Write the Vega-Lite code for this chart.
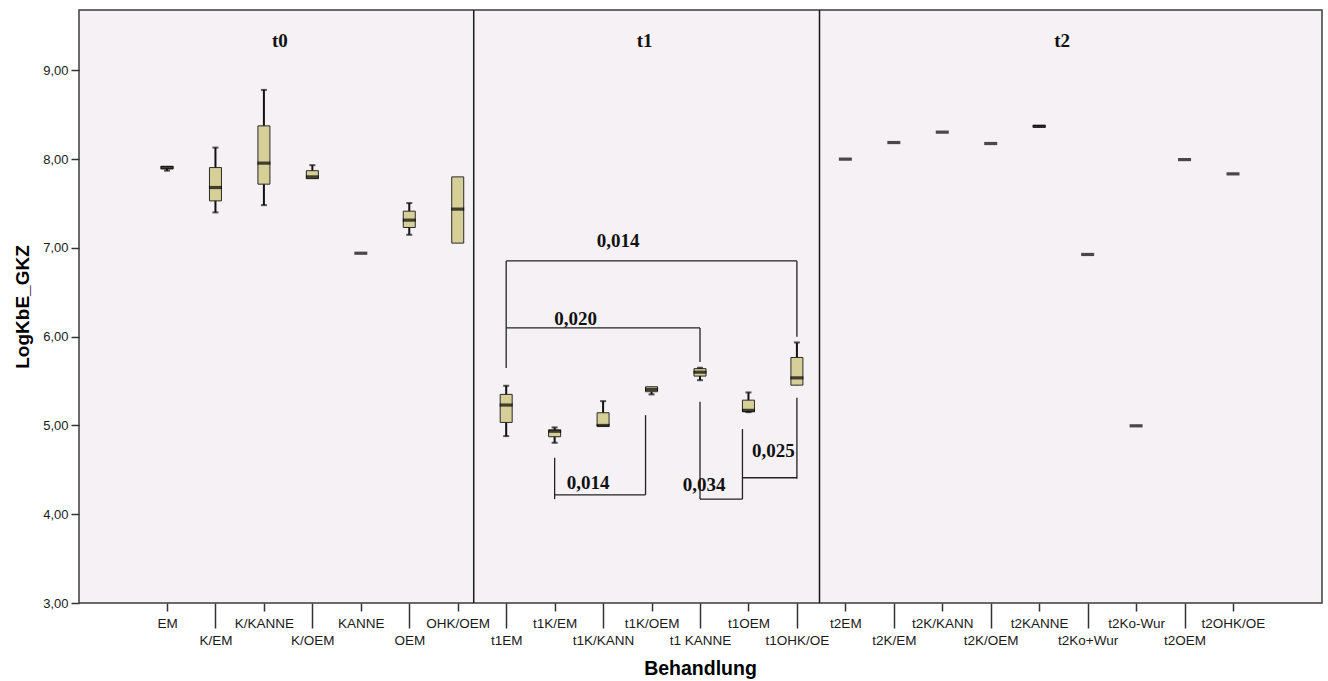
{
  "$schema": "https://vega.github.io/schema/vega-lite/v6.json",
  "autosize": {"type": "none"},
  "width": 1243,
  "height": 593,
  "padding": {"left": 79, "top": 10, "right": 6, "bottom": 78},
  "background": "#ffffff",
  "config": {
    "view": {"fill": "#F5F1F5", "stroke": "#3c3c3c", "strokeWidth": 1.5},
    "axis": {"domain": false, "grid": false, "labelFont": "Liberation Sans", "titleFont": "Liberation Sans", "labelColor": "#1a1a1a", "titleColor": "#000000", "tickColor": "#333333"}
  },
  "datasets": {
    "boxes": [
      {"Behandlung": "EM", "lower": 7.87, "q1": 7.89, "median": 7.905, "q3": 7.92, "upper": 7.92},
      {"Behandlung": "K/EM", "lower": 7.40, "q1": 7.53, "median": 7.68, "q3": 7.905, "upper": 8.13},
      {"Behandlung": "K/KANNE", "lower": 7.482, "q1": 7.718, "median": 7.955, "q3": 8.375, "upper": 8.78},
      {"Behandlung": "K/OEM", "lower": 7.78, "q1": 7.78, "median": 7.80, "q3": 7.87, "upper": 7.932},
      {"Behandlung": "KANNE", "lower": 6.94, "q1": 6.94, "median": 6.94, "q3": 6.94, "upper": 6.94},
      {"Behandlung": "OEM", "lower": 7.148, "q1": 7.23, "median": 7.313, "q3": 7.414, "upper": 7.505},
      {"Behandlung": "OHK/OEM", "lower": 7.054, "q1": 7.054, "median": 7.437, "q3": 7.80, "upper": 7.80},
      {"Behandlung": "t1EM", "lower": 4.88, "q1": 5.034, "median": 5.23, "q3": 5.35, "upper": 5.447},
      {"Behandlung": "t1K/EM", "lower": 4.805, "q1": 4.873, "median": 4.935, "q3": 4.95, "upper": 4.978},
      {"Behandlung": "t1K/KANN", "lower": 4.993, "q1": 4.993, "median": 5.0, "q3": 5.143, "upper": 5.274},
      {"Behandlung": "t1K/OEM", "lower": 5.35, "q1": 5.38, "median": 5.406, "q3": 5.436, "upper": 5.436},
      {"Behandlung": "t1 KANNE", "lower": 5.51, "q1": 5.556, "median": 5.60, "q3": 5.64, "upper": 5.65},
      {"Behandlung": "t1OEM", "lower": 5.15, "q1": 5.154, "median": 5.17, "q3": 5.285, "upper": 5.372},
      {"Behandlung": "t1OHK/OE", "lower": 5.454, "q1": 5.454, "median": 5.536, "q3": 5.766, "upper": 5.935},
      {"Behandlung": "t2EM", "lower": 8.0, "q1": 8.0, "median": 8.0, "q3": 8.0, "upper": 8.0},
      {"Behandlung": "t2K/EM", "lower": 8.187, "q1": 8.187, "median": 8.187, "q3": 8.187, "upper": 8.187},
      {"Behandlung": "t2K/KANN", "lower": 8.304, "q1": 8.304, "median": 8.304, "q3": 8.304, "upper": 8.304},
      {"Behandlung": "t2K/OEM", "lower": 8.176, "q1": 8.176, "median": 8.176, "q3": 8.176, "upper": 8.176},
      {"Behandlung": "t2KANNE", "lower": 8.36, "q1": 8.36, "median": 8.37, "q3": 8.38, "upper": 8.38},
      {"Behandlung": "t2Ko+Wur", "lower": 6.926, "q1": 6.926, "median": 6.926, "q3": 6.926, "upper": 6.926},
      {"Behandlung": "t2Ko-Wur", "lower": 4.996, "q1": 4.996, "median": 4.996, "q3": 4.996, "upper": 4.996},
      {"Behandlung": "t2OEM", "lower": 7.995, "q1": 7.995, "median": 7.995, "q3": 7.995, "upper": 7.995},
      {"Behandlung": "t2OHK/OE", "lower": 7.834, "q1": 7.834, "median": 7.834, "q3": 7.834, "upper": 7.834}
    ],
    "divs": [
      {"Behandlung": "OHK/OEM"},
      {"Behandlung": "t1OHK/OE"}
    ],
    "brackets": [
      {"id": 1, "Behandlung": "t1EM", "bis": "t1OHK/OE", "y1": 6.853, "y2": 6.853},
      {"id": 2, "Behandlung": "t1EM", "bis": "t1EM", "y1": 5.646, "y2": 6.853},
      {"id": 3, "Behandlung": "t1OHK/OE", "bis": "t1OHK/OE", "y1": 5.998, "y2": 6.853},
      {"id": 4, "Behandlung": "t1EM", "bis": "t1 KANNE", "y1": 6.099, "y2": 6.099},
      {"id": 5, "Behandlung": "t1 KANNE", "bis": "t1 KANNE", "y1": 5.716, "y2": 6.099},
      {"id": 6, "Behandlung": "t1K/EM", "bis": "t1K/OEM", "y1": 4.219, "y2": 4.219},
      {"id": 7, "Behandlung": "t1K/EM", "bis": "t1K/EM", "y1": 4.636, "y2": 4.17},
      {"id": 8, "Behandlung": "t1K/OEM", "bis": "t1K/OEM", "y1": 5.116, "y2": 4.219},
      {"id": 9, "Behandlung": "t1 KANNE", "bis": "t1OEM", "y1": 4.171, "y2": 4.171},
      {"id": 10, "Behandlung": "t1 KANNE", "bis": "t1 KANNE", "y1": 5.266, "y2": 4.171},
      {"id": 11, "Behandlung": "t1OEM", "bis": "t1OEM", "y1": 4.959, "y2": 4.171},
      {"id": 12, "Behandlung": "t1OHK/OE", "bis": "t1OEM", "y1": 4.411, "y2": 4.411},
      {"id": 13, "Behandlung": "t1OHK/OE", "bis": "t1OHK/OE", "y1": 5.311, "y2": 4.40}
    ],
    "notes": [
      {"id": 1, "Behandlung": "K/KANNE", "wert": 9.33, "label": "t0"},
      {"id": 2, "Behandlung": "t1K/OEM", "wert": 9.33, "label": "t1"},
      {"id": 3, "Behandlung": "t2KANNE", "wert": 9.33, "label": "t2"},
      {"id": 4, "Behandlung": "t1K/KANN", "wert": 7.08, "label": "0,014"},
      {"id": 5, "Behandlung": "t1K/EM", "wert": 6.197, "label": "0,020"},
      {"id": 6, "Behandlung": "t1K/KANN", "wert": 4.354, "label": "0,014"},
      {"id": 7, "Behandlung": "t1 KANNE", "wert": 4.328, "label": "0,034"},
      {"id": 8, "Behandlung": "t1OEM", "wert": 4.711, "label": "0,025"}
    ]
  },
  "encoding": {
    "x": {
      "field": "Behandlung",
      "type": "nominal",
      "scale": {
        "type": "point",
        "range": [88, 1154],
        "padding": 0,
        "domain": ["EM", "K/EM", "K/KANNE", "K/OEM", "KANNE", "OEM", "OHK/OEM", "t1EM", "t1K/EM", "t1K/KANN", "t1K/OEM", "t1 KANNE", "t1OEM", "t1OHK/OE", "t2EM", "t2K/EM", "t2K/KANN", "t2K/OEM", "t2KANNE", "t2Ko+Wur", "t2Ko-Wur", "t2OEM", "t2OHK/OE"]
      },
      "axis": {
        "title": "Behandlung",
        "titleFontSize": 19.5,
        "titleFontWeight": "bold",
        "titlePadding": 13,
        "labelAngle": 0,
        "labelFontSize": 13.5,
        "labelPadding": 5,
        "labelBaseline": "top",
        "labelOverlap": false,
        "tickWidth": 1.5,
        "tickSize": {
          "condition": {"test": "indexof(['K/EM','K/OEM','OEM','t1EM','t1K/KANN','t1 KANNE','t1OHK/OE','t2K/EM','t2K/OEM','t2Ko+Wur','t2OEM'], datum.value) >= 0", "value": 25},
          "value": 8
        }
      }
    }
  },
  "layer": [
    {
      "data": {"name": "boxes"},
      "mark": {"type": "rule", "color": "#111111", "strokeWidth": 2},
      "encoding": {
        "y": {
          "field": "lower",
          "type": "quantitative",
          "scale": {"domain": [3, 9.68], "nice": false, "zero": false},
          "axis": {
            "title": "LogKbE_GKZ",
            "titleFontSize": 19,
            "titleFontWeight": "bold",
            "titlePadding": 10,
            "values": [3, 4, 5, 6, 7, 8, 9],
            "labelExpr": "replace(format(datum.value, '.2f'), '.', ',')",
            "labelFontSize": 13,
            "labelPadding": 3,
            "tickSize": 8,
            "tickWidth": 1.5
          }
        },
        "y2": {"field": "upper"}
      }
    },
    {
      "data": {"name": "divs"},
      "transform": [{"filter": "datum.Behandlung == 'OHK/OEM'"}],
      "mark": {"type": "rule", "xOffset": 16, "color": "#1a1a1a", "strokeWidth": 1.5},
      "encoding": {}
    },
    {
      "data": {"name": "divs"},
      "transform": [{"filter": "datum.Behandlung == 't1OHK/OE'"}],
      "mark": {"type": "rule", "xOffset": 22.6, "color": "#1a1a1a", "strokeWidth": 1.5},
      "encoding": {}
    },
    {
      "data": {"name": "brackets"},
      "transform": [{"filter": "indexof([1,2,3,4,5,7,10,13], datum.id) >= 0"}],
      "mark": {"type": "rule", "color": "#222222", "strokeWidth": 1.3},
      "encoding": {
        "x2": {"field": "bis"},
        "y": {"field": "y1", "type": "quantitative"},
        "y2": {"field": "y2"}
      }
    },
    {
      "data": {"name": "brackets"},
      "transform": [{"filter": "indexof([6,9,12], datum.id) >= 0"}],
      "mark": {"type": "rule", "color": "#222222", "strokeWidth": 1.3, "x2Offset": -6},
      "encoding": {
        "x2": {"field": "bis"},
        "y": {"field": "y1", "type": "quantitative"},
        "y2": {"field": "y2"}
      }
    },
    {
      "data": {"name": "brackets"},
      "transform": [{"filter": "indexof([8,11], datum.id) >= 0"}],
      "mark": {"type": "rule", "color": "#222222", "strokeWidth": 1.3, "xOffset": -6, "x2Offset": -6},
      "encoding": {
        "x2": {"field": "bis"},
        "y": {"field": "y1", "type": "quantitative"},
        "y2": {"field": "y2"}
      }
    },
    {
      "data": {"name": "boxes"},
      "transform": [{"filter": "datum.q3 > datum.q1"}],
      "mark": {"type": "bar", "width": 12, "fill": "#D6CF98", "stroke": "#2a2a2a", "strokeWidth": 1},
      "encoding": {
        "y": {"field": "q1", "type": "quantitative"},
        "y2": {"field": "q3"}
      }
    },
    {
      "data": {"name": "boxes"},
      "mark": {"type": "tick", "size": 13, "thickness": 3.2, "color": "#000000"},
      "encoding": {
        "y": {"field": "median", "type": "quantitative"}
      }
    },
    {
      "data": {"name": "boxes"},
      "transform": [{"filter": "datum.upper > datum.q3"}],
      "mark": {"type": "tick", "size": 6, "thickness": 2, "color": "#111111"},
      "encoding": {
        "y": {"field": "upper", "type": "quantitative"}
      }
    },
    {
      "data": {"name": "boxes"},
      "transform": [{"filter": "datum.lower < datum.q1"}],
      "mark": {"type": "tick", "size": 6, "thickness": 2, "color": "#111111"},
      "encoding": {
        "y": {"field": "lower", "type": "quantitative"}
      }
    },
    {
      "data": {"name": "notes"},
      "transform": [{"filter": "datum.id == 1"}],
      "mark": {"type": "text", "font": "Liberation Serif", "fontWeight": "bold", "fontSize": 19, "color": "#111111", "baseline": "middle", "xOffset": 16},
      "encoding": {"y": {"field": "wert", "type": "quantitative"}, "text": {"field": "label"}}
    },
    {
      "data": {"name": "notes"},
      "transform": [{"filter": "datum.id == 2"}],
      "mark": {"type": "text", "font": "Liberation Serif", "fontWeight": "bold", "fontSize": 19, "color": "#111111", "baseline": "middle", "xOffset": -7},
      "encoding": {"y": {"field": "wert", "type": "quantitative"}, "text": {"field": "label"}}
    },
    {
      "data": {"name": "notes"},
      "transform": [{"filter": "datum.id == 3"}],
      "mark": {"type": "text", "font": "Liberation Serif", "fontWeight": "bold", "fontSize": 19, "color": "#111111", "baseline": "middle", "xOffset": 23},
      "encoding": {"y": {"field": "wert", "type": "quantitative"}, "text": {"field": "label"}}
    },
    {
      "data": {"name": "notes"},
      "transform": [{"filter": "datum.id == 4"}],
      "mark": {"type": "text", "font": "Liberation Serif", "fontWeight": "bold", "fontSize": 19, "color": "#111111", "baseline": "middle", "xOffset": 15},
      "encoding": {"y": {"field": "wert", "type": "quantitative"}, "text": {"field": "label"}}
    },
    {
      "data": {"name": "notes"},
      "transform": [{"filter": "datum.id == 5"}],
      "mark": {"type": "text", "font": "Liberation Serif", "fontWeight": "bold", "fontSize": 19, "color": "#111111", "baseline": "middle", "xOffset": 21},
      "encoding": {"y": {"field": "wert", "type": "quantitative"}, "text": {"field": "label"}}
    },
    {
      "data": {"name": "notes"},
      "transform": [{"filter": "datum.id == 6"}],
      "mark": {"type": "text", "font": "Liberation Serif", "fontWeight": "bold", "fontSize": 19, "color": "#111111", "baseline": "middle", "xOffset": -15},
      "encoding": {"y": {"field": "wert", "type": "quantitative"}, "text": {"field": "label"}}
    },
    {
      "data": {"name": "notes"},
      "transform": [{"filter": "datum.id == 7"}],
      "mark": {"type": "text", "font": "Liberation Serif", "fontWeight": "bold", "fontSize": 19, "color": "#111111", "baseline": "middle", "xOffset": 4},
      "encoding": {"y": {"field": "wert", "type": "quantitative"}, "text": {"field": "label"}}
    },
    {
      "data": {"name": "notes"},
      "transform": [{"filter": "datum.id == 8"}],
      "mark": {"type": "text", "font": "Liberation Serif", "fontWeight": "bold", "fontSize": 19, "color": "#111111", "baseline": "middle", "xOffset": 25},
      "encoding": {"y": {"field": "wert", "type": "quantitative"}, "text": {"field": "label"}}
    }
  ]
}
